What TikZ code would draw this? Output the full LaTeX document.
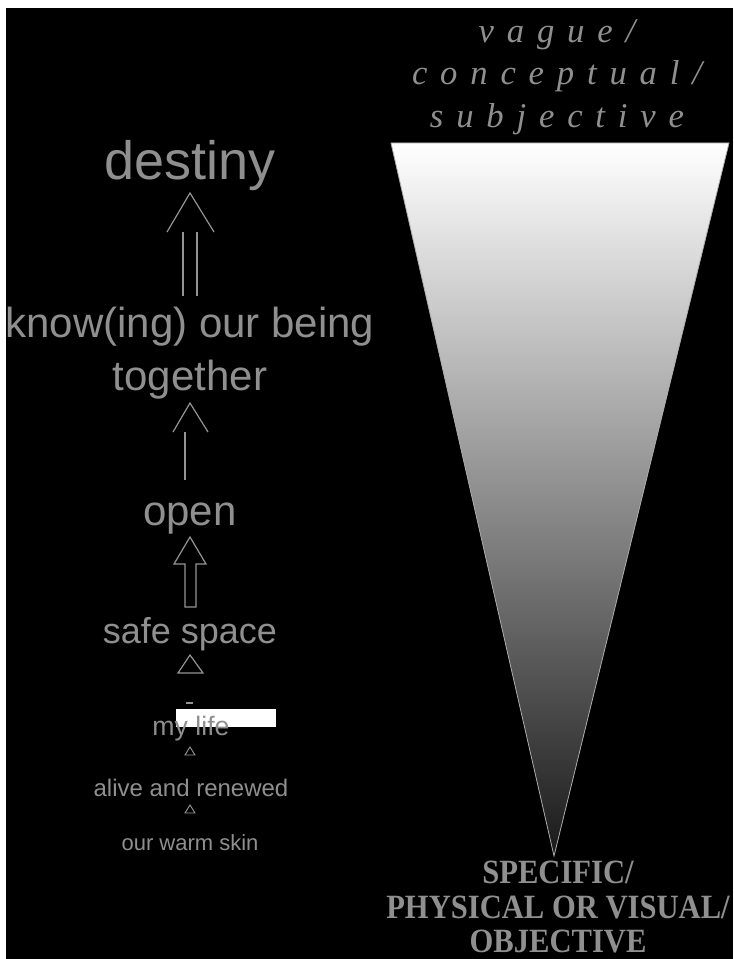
\documentclass[tikz,border=0pt]{standalone}
\usepackage{fontspec}
\newfontfamily\sansf{Liberation Sans}
\newfontfamily\topf{Liberation Serif}[LetterSpace=37]
\newfontfamily\botf{Liberation Serif}
\newcommand\fsz[1]{\fontsize{#1}{#1}\selectfont}
\definecolor{txtgray}{gray}{0.56}
\definecolor{linegray}{gray}{0.58}
\begin{document}
\begin{tikzpicture}[x=0.75pt,y=-0.75pt,
  lbl/.style={text=txtgray, inner sep=0pt, anchor=base},
  ln/.style={draw=linegray, line width=0.9pt},
]
\useasboundingbox (0,0) rectangle (733,959);
\fill[white] (0,0) rectangle (733,959);
\fill[black] (6,8) rectangle (733,959);

% funnel triangle
\coordinate (tl) at (391,143);
\coordinate (tr) at (729,143);
\coordinate (tip) at (554,856);
\shade[top color=white, bottom color=black!90] (tl) -- (tr) -- (tip) -- cycle;
\draw[gray!65, line width=0.6pt] (tl) -- (tr) -- (tip) -- cycle;

% right-hand texts
\node[lbl, font=\topf\itshape\fsz{26}] (v1) at (557,43) {vague/};
\node[lbl, font=\topf\itshape\fsz{26}] (v2) at (557,85) {conceptual/};
\node[lbl, font=\topf\itshape\fsz{26}] (v3) at (557,128) {subjective};
\node[lbl, font=\botf\bfseries\fsz{25.5}] (s1) at (558,883) {\scalebox{0.9}[1]{SPECIFIC/}};
\node[lbl, font=\botf\bfseries\fsz{25.5}] (s2) at (558,918) {\scalebox{0.9}[1]{PHYSICAL OR VISUAL/}};
\node[lbl, font=\botf\bfseries\fsz{25.5}] (s3) at (558,952) {\scalebox{0.9}[1]{OBJECTIVE}};

% left-hand ladder
\node[lbl, font=\sansf\fsz{40.5}] (destiny) at (190,180) {destiny};
\node[lbl, font=\sansf\fsz{31.5}] (know) at (190,337) {know(ing) our being};
\node[lbl, font=\sansf\fsz{31.5}] (together) at (190,390) {together};
\node[lbl, font=\sansf\fsz{31.5}] (open) at (190,525) {open};
\node[lbl, font=\sansf\fsz{27}] (safe) at (190,643) {safe space};
\fill[white] (176,709) rectangle (276,727);
\node[lbl, font=\sansf\fsz{20}] (life) at (191,735) {my life};
\node[lbl, font=\sansf\fsz{18}] (alive) at (191,796) {alive and renewed};
\node[lbl, font=\sansf\fsz{16.5}] (skin) at (190,850) {our warm skin};

% arrow know -> destiny (double shaft, open caret)
\draw[ln] (167,232) -- (190,193) -- (214,232);
\draw[ln] (183,232) -- (183,296);
\draw[ln] (197,232) -- (197,296);
% arrow together -> know
\draw[ln] (173,432) -- (190,403) -- (208,432);
\draw[ln] (185,432) -- (185,480);
% block arrow safe space -> open
\draw[ln] (190,537) -- (206,564) -- (196,564) -- (196,607) -- (185,607) -- (185,564) -- (174,564) -- cycle;
% small triangle
\draw[ln] (190,655) -- (203,673) -- (178,673) -- cycle;
% dash
\draw[ln] (186,703) -- (193,703);
% tiny triangles
\draw[ln, line width=0.7pt] (190,747) -- (195,755) -- (185,755) -- cycle;
\draw[ln, line width=0.7pt] (190,805) -- (195,813) -- (185,813) -- cycle;
\end{tikzpicture}
\end{document}
